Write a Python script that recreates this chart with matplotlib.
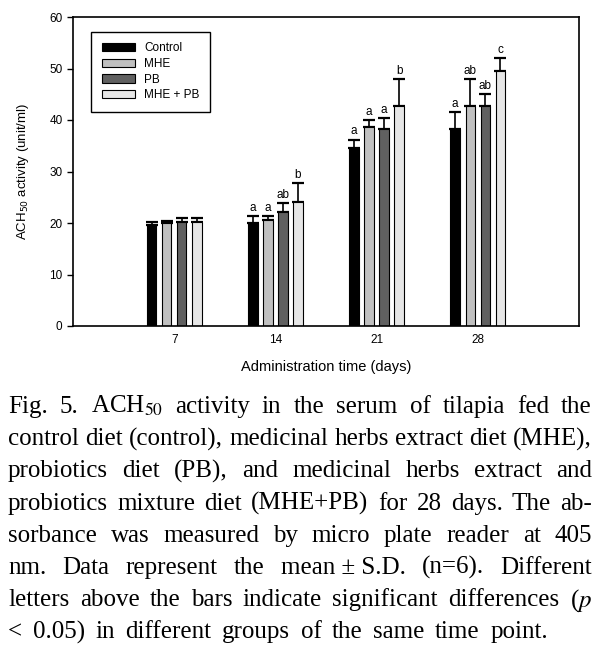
import numpy as np
import matplotlib
matplotlib.use("Agg")
import matplotlib.pyplot as plt

days = [7, 14, 21, 28]
groups = ["Control", "MHE", "PB", "MHE + PB"]
colors = ["#000000", "#c0c0c0", "#606060", "#e6e6e6"]

# mean values
means = {
    "Control": [19.6, 20.0, 34.5, 38.2],
    "MHE": [20.0, 20.5, 38.6, 42.8],
    "PB": [20.1, 22.1, 38.2, 42.8],
    "MHE + PB": [20.1, 24.0, 42.8, 49.5],
}
# upper end of the error bars
tops = {
    "Control": [20.1, 21.4, 36.2, 41.5],
    "MHE": [20.3, 21.4, 40.0, 47.9],
    "PB": [21.0, 23.8, 40.4, 45.0],
    "MHE + PB": [21.0, 27.8, 48.0, 52.0],
}
letters = {
    "Control": ["", "a", "a", "a"],
    "MHE": ["", "a", "a", "ab"],
    "PB": ["", "ab", "a", "ab"],
    "MHE + PB": ["", "b", "b", "c"],
}

caption = [
    "Fig. 5. ACH$_{50}$ activity in the serum of tilapia fed the",
    "control diet (control), medicinal herbs extract diet (MHE),",
    "probiotics diet (PB), and medicinal herbs extract and",
    "probiotics mixture diet (MHE+PB) for 28 days. The ab-",
    "sorbance was measured by micro plate reader at 405",
    "nm. Data represent the mean\u00a0±\u00a0S.D. (n=6). Different",
    "letters above the bars indicate significant differences ($p$",
    "< 0.05) in different groups of the same time point.",
]

plt.rcParams["font.family"] = ["Liberation Sans", "DejaVu Sans"]

fig = plt.figure(figsize=(6.02, 6.52), dpi=100)
ax = fig.add_axes([73 / 602, 0.5, 506 / 602, 309 / 652])

step = 1.04
width = 0.66
x = np.array(days, dtype=float)
for i, g in enumerate(groups):
    pos = x + (i - 1.5) * step
    m = np.array(means[g])
    err = np.array(tops[g]) - m
    ax.bar(pos, m, width, color=colors[i], edgecolor="black", linewidth=0.8,
           label=g, zorder=2)
    ax.errorbar(pos, m, yerr=[np.zeros_like(err), err], fmt="none",
                ecolor="black", elinewidth=1.2, capsize=4.5, capthick=1.6,
                zorder=1)
    for p, t, lab in zip(pos, tops[g], letters[g]):
        if lab:
            ax.annotate(lab, (p, t), xytext=(0, 1.5), textcoords="offset points",
                        ha="center", va="bottom", fontsize=8.5)

ax.set_xlim(0, 35)
ax.set_ylim(0, 60)
ax.set_xticks(days)
ax.set_yticks(range(0, 61, 10))
ax.tick_params(axis="x", length=0, labelsize=8.5, pad=6)
ax.tick_params(axis="y", direction="out", length=4, width=1, labelsize=8.5)
for s in ax.spines.values():
    s.set_linewidth(1.2)
ax.set_xlabel("Administration time (days)", fontsize=10.5, labelpad=10)
ax.set_ylabel("ACH$_{50}$ activity (unit/ml)", fontsize=9.5, labelpad=13)

leg = ax.legend(loc="upper left", bbox_to_anchor=(0.036, 0.952), borderaxespad=0,
                fontsize=8.5, fancybox=False, framealpha=1, edgecolor="black",
                handlelength=2.8, handleheight=0.7, labelspacing=0.3,
                borderpad=0.9, handletextpad=0.8)
leg.get_frame().set_linewidth(1)

# justified caption
fs = 18
left, right = 8, 592
renderer = fig.canvas.get_renderer()
for li, line in enumerate(caption):
    words = line.split(" ")
    items = []
    for w in words:
        t = fig.text(0, 0, w, fontsize=fs, family=["Liberation Serif", "DejaVu Serif"],
                     math_fontfamily="stix", va="baseline", ha="left")
        items.append(t)
    widths = [t.get_window_extent(renderer).width for t in items]
    if li == len(caption) - 1:
        gap = (548 - left - sum(widths)) / (len(words) - 1)
    else:
        gap = (right - left - sum(widths)) / (len(words) - 1)
    xp = left
    yb = 413 + 32.2 * li
    for t, w in zip(items, widths):
        t.set_position((xp / 602, 1 - yb / 652))
        xp += w + gap

fig.savefig("out.png", dpi=100)
